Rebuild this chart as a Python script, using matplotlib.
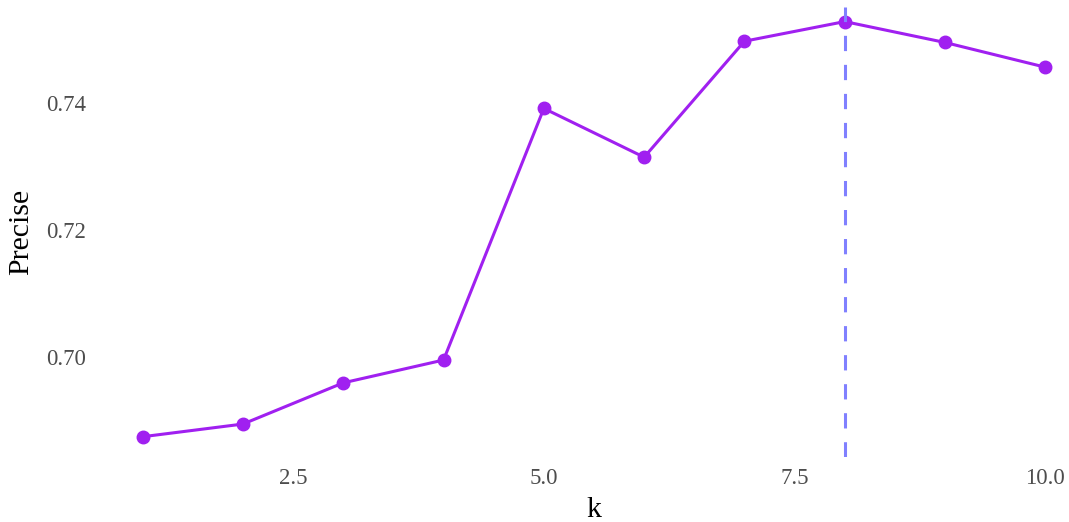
import numpy as np
import matplotlib.pyplot as plt

k = [1, 2, 3, 4, 5, 6, 7, 8, 9, 10]
precise = [0.6874, 0.6894, 0.6959, 0.6995, 0.7392, 0.7315, 0.7498, 0.7529, 0.7496, 0.7457]
best_k = 8
x_ticks = [2.5, 5.0, 7.5, 10.0]
y_ticks = [0.70, 0.72, 0.74]

plt.rcParams['font.family'] = ['Liberation Serif', 'DejaVu Serif']

fig = plt.figure(figsize=(10.69, 5.22), dpi=100)
ax = fig.add_axes([97.5 / 1069, 65 / 522, 993 / 1069, 450 / 522])

ax.plot(k, precise, color='#A020F0', linewidth=2.2, marker='o', markersize=9, zorder=2)
ax.axvline(best_k, color='#8080FF', linewidth=2.2, linestyle=(0, (5, 4.5)), zorder=3)

ax.set_xlim(0.55, 10.45)
ax.set_ylim(0.6842, 0.7552)
ax.set_xticks(x_ticks)
ax.set_xticklabels([f'{t:.1f}' for t in x_ticks])
ax.set_yticks(y_ticks)
ax.set_yticklabels([f'{t:.2f}' for t in y_ticks])
ax.tick_params(length=0, labelsize=16.5, labelcolor='#4D4D4D')
ax.tick_params(axis='y', pad=8)
ax.tick_params(axis='x', pad=8)

for s in ax.spines.values():
    s.set_visible(False)
ax.grid(False)

ax.set_xlabel('k', fontsize=21.5)
ax.set_ylabel('Precise', fontsize=21.5)
ax.xaxis.set_label_coords(0.5, -0.118)
ax.xaxis.label.set_va('center')
ax.yaxis.set_label_coords(-0.077, 0.5)
ax.yaxis.label.set_va('center')

fig.savefig('out.png', dpi=100)
